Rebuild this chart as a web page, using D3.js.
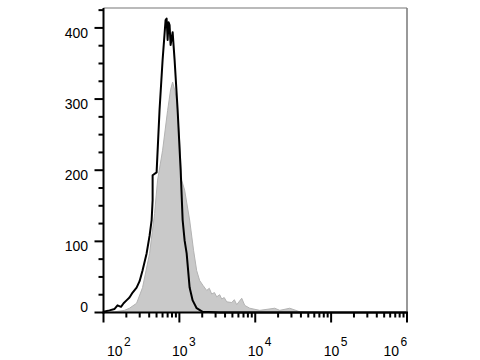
<!DOCTYPE html>
<html>
<head>
<meta charset="utf-8">
<script src="https://cdn.jsdelivr.net/npm/d3@7"></script>
<style>
  body { margin: 0; background: #fff; }
  svg { display: block; font-family: "Liberation Sans", Arial, sans-serif; }
</style>
</head>
<body>
<script>
// intensity (linear units) and event counts
const blackX = [100, 120, 140, 153, 170, 184, 201, 220, 242, 273, 299, 327, 370, 405, 431, 444, 444, 501, 548, 601, 658, 679, 700, 721, 743, 766, 815, 865, 948, 1040, 1104, 1173, 1247, 1365, 1496, 1690, 2027, 3398, 1e6];
const blackY = [1, 3, 5, 10, 8, 13, 17, 21, 28, 35, 44, 59, 83, 108, 130, 158, 193, 197, 285, 355, 411, 413, 383, 408, 404, 376, 394, 355, 285, 200, 130, 101, 83, 35, 17, 6, 1, 0, 0];

const greyX = [100, 140, 189, 220, 273, 327, 405, 471, 516, 601, 700, 766, 815, 865, 920, 1007, 1072, 1173, 1365, 1540, 1690, 1849, 2050, 2291, 2480, 2667, 2900, 3105, 3400, 3611, 3900, 4205, 4895, 5300, 5699, 6635, 7269, 8460, 11460, 18070, 21040, 28500, 38630, 96100];
const greyY = [0, 1, 3, 6, 13, 35, 83, 139, 186, 228, 284, 313, 324, 313, 298, 242, 186, 172, 130, 87, 59, 45, 38, 31, 34, 26, 28, 22, 25, 19, 21, 15, 14, 18, 11, 20, 10, 6, 3, 6, 3, 6, 1, 0];

const xDecades = [1e2, 1e3, 1e4, 1e5, 1e6];
const yMajor = [0, 100, 200, 300, 400];

const W = 480, H = 360;
const m = { left: 103.5, right: 407, top: 8, bottom: 312.5 };

const svg = d3.select("body").append("svg")
    .attr("width", W)
    .attr("height", H);

const x = d3.scaleLog().domain([100, 1e6]).range([m.left, m.right]);
const y = d3.scaleLinear().domain([0, 428]).range([m.bottom, m.top]);

const grey = greyX.map((v, i) => [v, greyY[i]]);
const black = blackX.map((v, i) => [v, blackY[i]]);

// grey filled histogram
svg.append("path")
    .datum(grey)
    .attr("fill", "#c9c9c9")
    .attr("stroke", "#b3b3b3")
    .attr("stroke-width", 1)
    .attr("d", d3.area().x(d => x(d[0])).y0(y(0)).y1(d => y(d[1])));

// black outline histogram
svg.append("path")
    .datum(black)
    .attr("fill", "none")
    .attr("stroke", "#000")
    .attr("stroke-width", 2)
    .attr("stroke-linejoin", "round")
    .attr("d", d3.line().x(d => x(d[0])).y(d => y(d[1])));

// frame (top and right in grey)
svg.append("line").attr("x1", m.left).attr("x2", m.right).attr("y1", m.top).attr("y2", m.top)
    .attr("stroke", "#777").attr("stroke-width", 1.2);
svg.append("line").attr("x1", m.right).attr("x2", m.right).attr("y1", m.top).attr("y2", m.bottom)
    .attr("stroke", "#777").attr("stroke-width", 1.5);

// y axis
const yMinor = d3.range(0, 426, 25);
const yAxis = svg.append("g").attr("stroke", "#000").attr("stroke-width", 2);
yAxis.append("line").attr("x1", m.left).attr("x2", m.left).attr("y1", m.top).attr("y2", m.bottom + 1);
yAxis.selectAll("line.tick").data(yMinor).enter().append("line")
    .attr("class", "tick")
    .attr("x1", d => yMajor.includes(d) ? m.left - 9 : m.left - 5)
    .attr("x2", m.left)
    .attr("y1", d => y(d)).attr("y2", d => y(d));
svg.selectAll("text.ylab").data(yMajor).enter().append("text")
    .attr("class", "ylab")
    .attr("x", 88)
    .attr("y", d => y(d) + (d === 0 ? -1 : 10))
    .attr("text-anchor", "end")
    .attr("font-size", 14)
    .attr("fill", "#000")
    .text(d => d);

// x axis
const xTicks = x.ticks();
const xAxis = svg.append("g").attr("stroke", "#000").attr("stroke-width", 2);
xAxis.append("line").attr("x1", m.left - 1).attr("x2", m.right + 1).attr("y1", m.bottom).attr("y2", m.bottom);
xAxis.selectAll("line.tick").data(xTicks).enter().append("line")
    .attr("class", "tick")
    .attr("x1", d => x(d)).attr("x2", d => x(d))
    .attr("y1", m.bottom)
    .attr("y2", d => xDecades.includes(d) ? m.bottom + 10 : m.bottom + 5);

const shift = [11, 0, 0, 0, -16];
const xl = svg.selectAll("text.xlab").data(xDecades).enter().append("text")
    .attr("class", "xlab")
    .attr("x", (d, i) => x(d) - 7.5 + shift[i])
    .attr("y", 356)
    .attr("font-size", 14)
    .attr("fill", "#000");
xl.append("tspan").text("10");
xl.append("tspan")
    .attr("font-size", 12)
    .attr("dy", -10)
    .attr("dx", 1.5)
    .text(d => Math.round(Math.log10(d)));
</script>
</body>
</html>
